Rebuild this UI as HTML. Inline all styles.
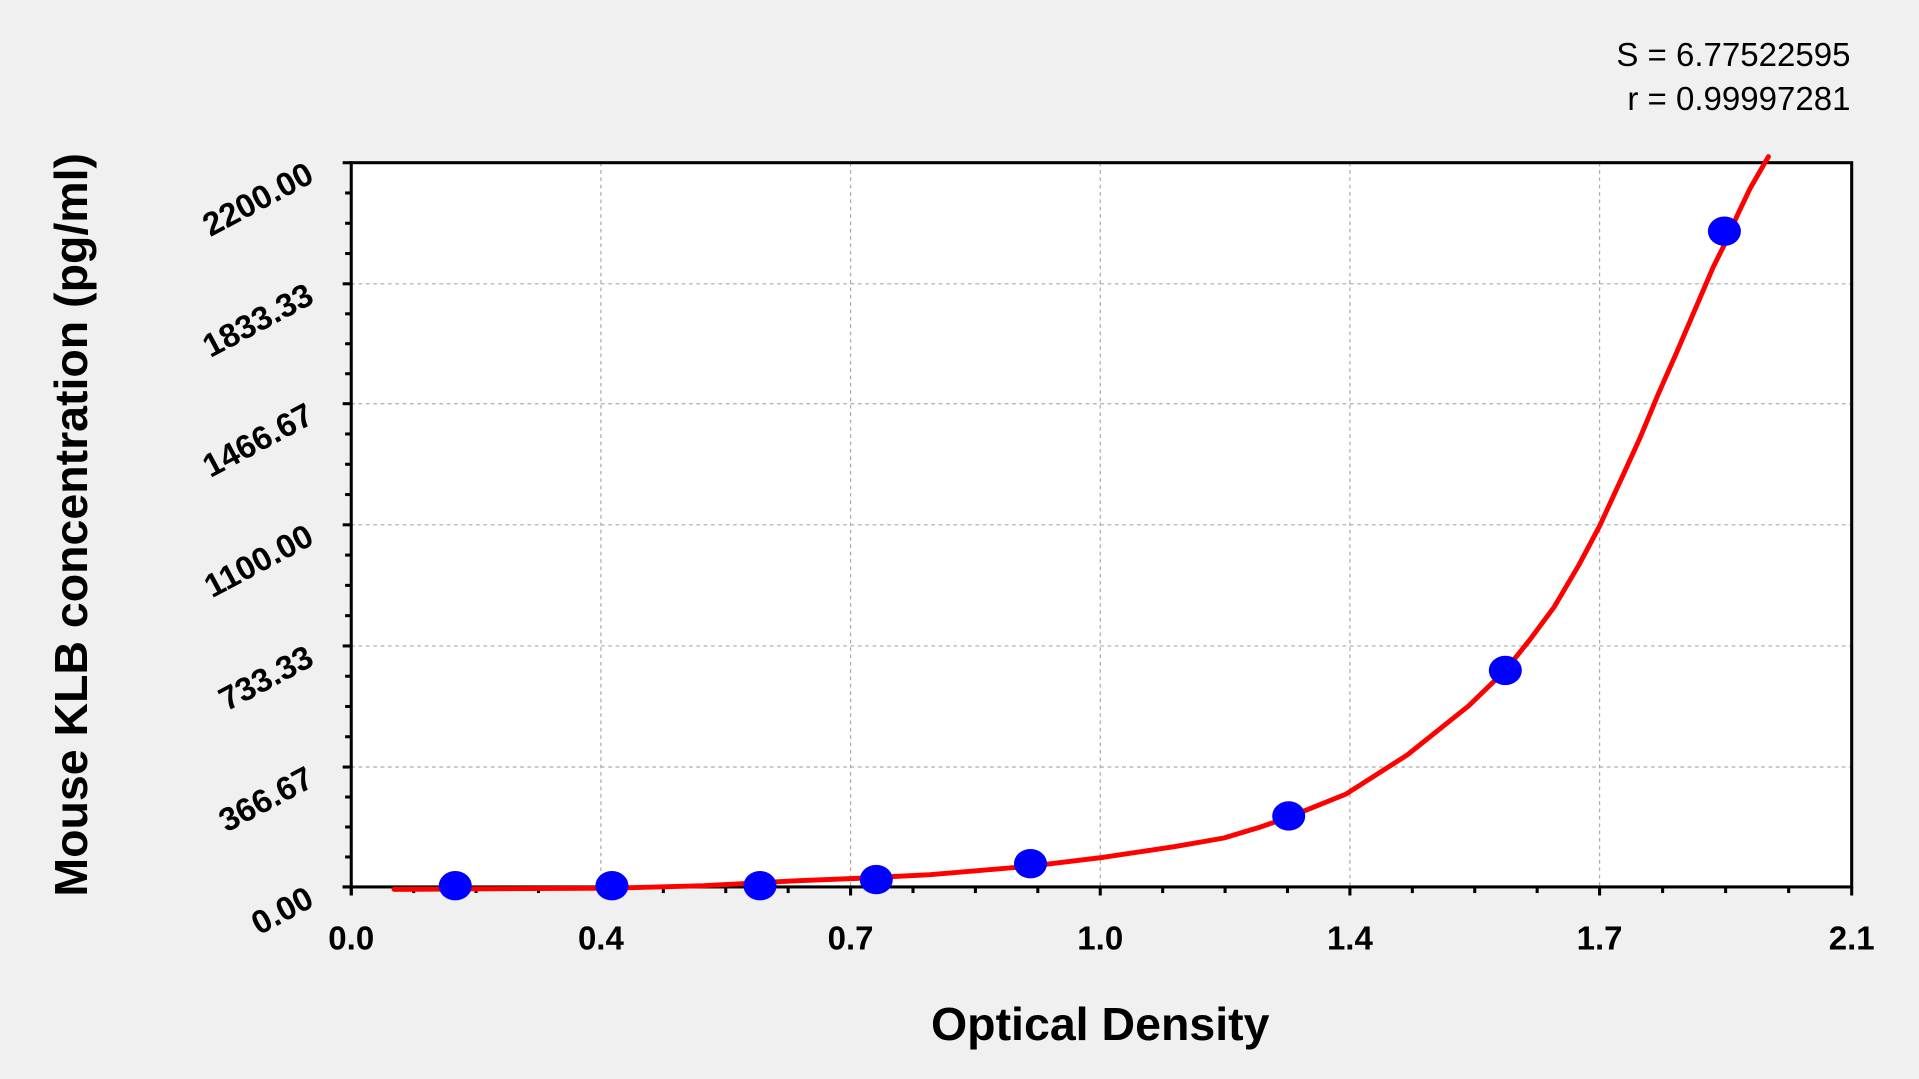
<!DOCTYPE html>
<html><head><meta charset="utf-8"><style>
html,body{margin:0;padding:0;background:#f0f0f0;}
svg{display:block;}
text{font-family:"Liberation Sans",Arial,sans-serif;font-weight:bold;fill:#000;}
</style></head><body>
<svg width="1919" height="1079" viewBox="0 0 1568 882" preserveAspectRatio="none" xmlns="http://www.w3.org/2000/svg">
<rect x="0" y="0" width="1568" height="882" fill="#f0f0f0"/>
<rect x="287" y="133" width="1226" height="592" fill="#fff"/>
<g stroke="#aaa" stroke-width="1" stroke-dasharray="3,3">
<line x1="491" y1="133" x2="491" y2="725"/><line x1="695" y1="133" x2="695" y2="725"/>
<line x1="899" y1="133" x2="899" y2="725"/><line x1="1103" y1="133" x2="1103" y2="725"/>
<line x1="1307" y1="133" x2="1307" y2="725"/>
<line x1="287" y1="232" x2="1513" y2="232"/><line x1="287" y1="330" x2="1513" y2="330"/>
<line x1="287" y1="429" x2="1513" y2="429"/><line x1="287" y1="528" x2="1513" y2="528"/>
<line x1="287" y1="627" x2="1513" y2="627"/>
</g>
<rect x="287" y="133" width="1226" height="592" fill="none" stroke="#000" stroke-width="2.5"/>
<g stroke="#000" stroke-width="2.5">
<line x1="287" y1="725" x2="287" y2="732"/>
<line x1="280" y1="725" x2="287" y2="725"/>
</g>
<g id="ticks" stroke="#000" stroke-width="2.5"></g>
<polyline fill="none" stroke="#ff0000" stroke-width="4" stroke-linecap="round" stroke-linejoin="round"
points="322,727 500,726 575,724 650,720 700,718 760,715 842,708 900,701 960,692 1000,685 1030,676 1053,668 1100,649 1150,617 1200,577 1230,548 1250,523 1270,496 1290,462 1307,430 1325,391 1340,358 1355,322 1370,288 1385,253 1400,218 1409,200 1420,175 1430,154 1445,128"/>
<g fill="#0000ff">
<ellipse cx="372" cy="724" rx="13.5" ry="12"/><ellipse cx="500" cy="724" rx="13.5" ry="12"/>
<ellipse cx="621" cy="724" rx="13.5" ry="12"/><ellipse cx="716" cy="719" rx="13.5" ry="12"/>
<ellipse cx="842" cy="706" rx="13.5" ry="12"/><ellipse cx="1053" cy="667" rx="13.5" ry="12"/>
<ellipse cx="1230" cy="548" rx="13.5" ry="12"/><ellipse cx="1409" cy="189" rx="13.5" ry="12"/>
</g>
<g font-size="27" text-anchor="middle">
<text x="287" y="776">0.0</text><text x="491" y="776">0.4</text><text x="695" y="776">0.7</text>
<text x="899" y="776">1.0</text><text x="1103" y="776">1.4</text><text x="1307" y="776">1.7</text>
<text x="1513" y="776">2.1</text>
</g>
<g font-size="27" text-anchor="end">
<text transform="translate(258,740) rotate(-28)">0.00</text>
<text transform="translate(258,642) rotate(-28)">366.67</text>
<text transform="translate(258,543) rotate(-28)">733.33</text>
<text transform="translate(258,444) rotate(-28)">1100.00</text>
<text transform="translate(258,345) rotate(-28)">1466.67</text>
<text transform="translate(258,247) rotate(-28)">1833.33</text>
<text transform="translate(258,148) rotate(-28)">2200.00</text>
</g>
<text x="899" y="850" font-size="38" text-anchor="middle">Optical Density</text>
<text transform="translate(71,429) rotate(-90)" font-size="38" text-anchor="middle">Mouse KLB concentration (pg/ml)</text>
<text x="1512" y="54" font-size="27" text-anchor="end" style="font-weight:normal">S = 6.77522595</text>
<text x="1512" y="90" font-size="27" text-anchor="end" style="font-weight:normal">r = 0.99997281</text>
</svg>
<script>
var g=document.getElementById('ticks'),s='';
var xs=[287,491,695,899,1103,1307,1513];
for(var i=0;i<xs.length;i++){var x=xs[i];s+='<line x1="'+x+'" y1="725" x2="'+x+'" y2="732"/>';
 if(i<xs.length-1){var d=(xs[i+1]-x)/4;for(var k=1;k<4;k++){var xx=x+d*k;s+='<line x1="'+xx+'" y1="725" x2="'+xx+'" y2="730"/>';}}}
var ys=[725,627,528,429,330,232,133];
for(var i=0;i<ys.length;i++){var y=ys[i];s+='<line x1="280" y1="'+y+'" x2="287" y2="'+y+'"/>';
 if(i<ys.length-1){var d=(ys[i+1]-y)/4;for(var k=1;k<4;k++){var yy=y+d*k;s+='<line x1="282" y1="'+yy+'" x2="287" y2="'+yy+'"/>';}}}
g.innerHTML=s;
</script>
</body></html>
